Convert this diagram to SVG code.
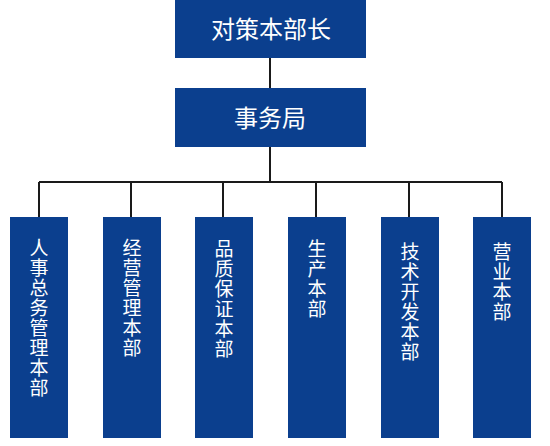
<svg xmlns="http://www.w3.org/2000/svg" width="550" height="446" viewBox="0 0 550 446">
<style>
.box{fill:#0B3F8E}
.t{fill:#ffffff;font-family:"Noto Sans CJK SC","Noto Sans",sans-serif;text-anchor:middle}
.h{font-size:24px}
.v{font-size:19px;writing-mode:vertical-rl;text-orientation:upright;text-anchor:start;letter-spacing:1px}
.c{stroke:#1a1a1a;stroke-width:2;fill:none}
</style>
<rect width="550" height="446" fill="#ffffff"/>
<g id="connectors">
<path class="c" d="M270 58V88M270 147V182M39 182H502M39 182V217M131 182V217M223 182V217M316 182V217M409 182V217M502 182V217"/>
</g>
<g id="n-top"><rect class="box" x="175" y="0" width="191" height="58"/><text class="t h" x="271" y="38">对策本部长</text></g>
<g id="n-office"><rect class="box" x="175" y="88" width="191" height="59"/><text class="t h" x="270" y="127">事务局</text></g>
<g id="n1"><rect class="box" x="10" y="217" width="58" height="221"/><text class="t v" x="39" y="238.5">人事总务管理本部</text></g>
<g id="n2"><rect class="box" x="103" y="217" width="58" height="221"/><text class="t v" x="132" y="238.5">经营管理本部</text></g>
<g id="n3"><rect class="box" x="195" y="217" width="58" height="221"/><text class="t v" x="224" y="239.5">品质保证本部</text></g>
<g id="n4"><rect class="box" x="288" y="217" width="58" height="221"/><text class="t v" x="317" y="239.5">生产本部</text></g>
<g id="n5"><rect class="box" x="381" y="217" width="58" height="221"/><text class="t v" x="410" y="242.5">技术开发本部</text></g>
<g id="n6"><rect class="box" x="473" y="217" width="58" height="221"/><text class="t v" x="502" y="242.5">营业本部</text></g>
</svg>
